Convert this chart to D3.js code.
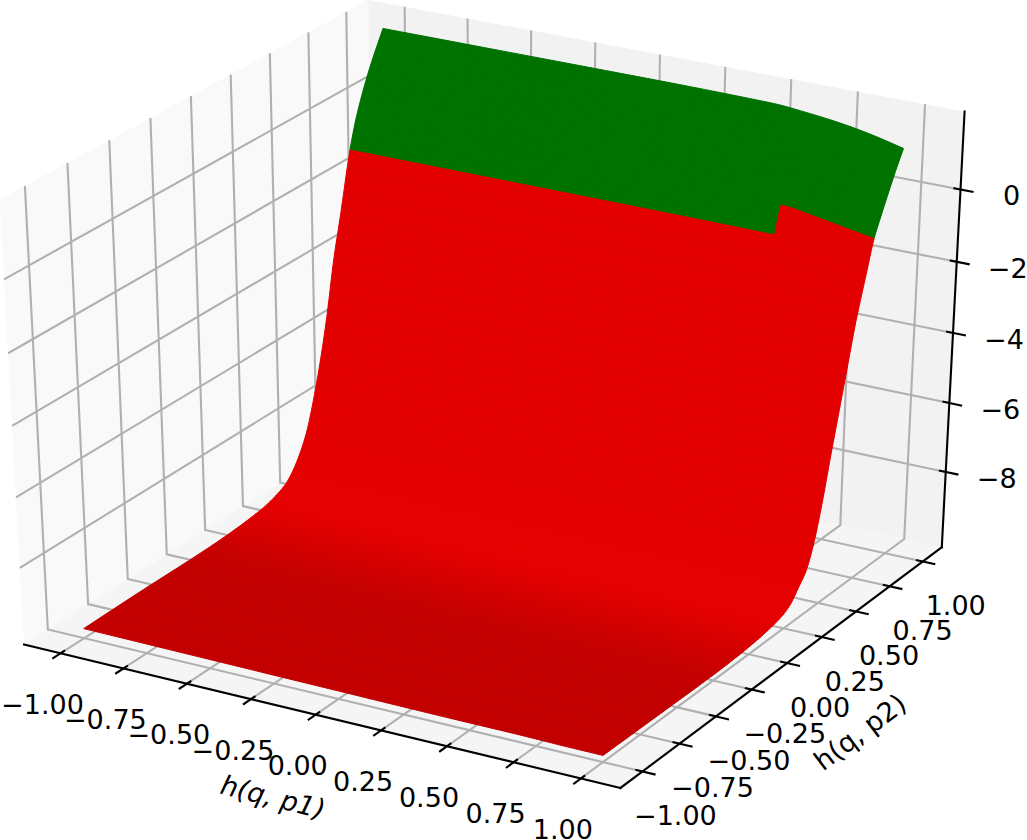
<!DOCTYPE html>
<html>
<head>
<meta charset="utf-8">
<script src="https://cdn.jsdelivr.net/npm/d3@7"></script>
<style>
  body { margin: 0; background: #fff; }
  text { font-family: "DejaVu Sans", sans-serif; fill: #000; }
</style>
</head>
<body>
<div id="chart"></div>
<script>
// axis ticks
var xTicks = [-1, -0.75, -0.5, -0.25, 0, 0.25, 0.5, 0.75, 1];
var yTicks = [-1, -0.75, -0.5, -0.25, 0, 0.25, 0.5, 0.75, 1];
var zTicks = [-8, -6, -4, -2, 0];
var xLimits = [-1.146, 1.146];
var yLimits = [-1.146, 1.146];
var zLimits = [-10.22, 2.12];

// surface
var gridX = [-1, 0, 0.5, 0.65, 0.78, 0.89, 1];
var gridY = [-1, -0.6, -0.35, -0.25, -0.2, -0.15, -0.1, -0.05, 0, 0.05, 0.1, 0.15, 0.2, 0.25, 0.3,
             0.35, 0.4, 0.45, 0.5, 0.55, 0.6, 0.65, 0.7, 0.77, 0.81, 0.85, 0.9, 0.95, 1];
var gridZ = [
  [-9.94, -9.99, -10.01, -10.01, -10.02, -10.03, -10.03],
  [-9.91, -9.98, -10.02, -10.03, -10.03, -10.04, -10.05],
  [-9.91, -9.985, -10.02, -10.03, -10.04, -10.05, -10.06],
  [-9.905, -9.98, -10.02, -10.03, -10.04, -10.05, -10.06],
  [-9.90, -9.98, -10.02, -10.03, -10.04, -10.05, -10.055],
  [-9.89, -9.97, -10.01, -10.02, -10.03, -10.04, -10.05],
  [-9.88, -9.96, -10.00, -10.01, -10.02, -10.03, -10.04],
  [-9.865, -9.95, -9.99, -10.00, -10.01, -10.02, -10.03],
  [-9.845, -9.93, -9.97, -9.98, -9.99, -10.00, -10.01],
  [-9.82, -9.905, -9.95, -9.96, -9.97, -9.98, -9.99],
  [-9.79, -9.875, -9.92, -9.93, -9.94, -9.95, -9.96],
  [-9.755, -9.84, -9.88, -9.89, -9.90, -9.91, -9.92],
  [-9.69, -9.78, -9.825, -9.84, -9.85, -9.86, -9.87],
  [-9.60, -9.695, -9.74, -9.76, -9.77, -9.78, -9.79],
  [-9.48, -9.555, -9.59, -9.605, -9.61, -9.62, -9.63],
  [-9.23, -9.28, -9.305, -9.31, -9.32, -9.325, -9.33],
  [-8.85, -8.94, -8.98, -8.99, -9.00, -9.01, -9.02],
  [-8.32, -8.35, -8.365, -8.37, -8.37, -8.38, -8.38],
  [-7.50, -7.45, -7.425, -7.42, -7.41, -7.405, -7.40],
  [-6.50, -6.35, -6.28, -6.25, -6.23, -6.21, -6.20],
  [-5.30, -5.18, -5.11, -5.09, -5.08, -5.06, -5.05],
  [-3.85, -3.87, -3.88, -3.89, -3.89, -3.90, -3.90],
  [-2.70, -2.72, -2.73, -2.73, -2.74, -2.75, -2.75],
  [-1.01, -1.01, -1.02, -1.03, -1.19, -1.31, -1.45],
  [-0.28, -0.28, -0.29, -0.30, -0.44, -0.58, -0.72],
  [0.28, 0.28, 0.25, 0.15, 0.05, -0.10, -0.26],
  [0.87, 0.87, 0.84, 0.74, 0.62, 0.47, 0.28],
  [1.38, 1.38, 1.35, 1.26, 1.14, 0.99, 0.80],
  [1.85, 1.85, 1.82, 1.73, 1.61, 1.46, 1.27]
];
// y where green starts, one per grid column gap
var greenFrom = [0.77, 0.77, 0.77, 0.81, 0.81, 0.81];

var width = 1027, height = 840;
var elev = 30 * Math.PI / 180, azim = -60 * Math.PI / 180, dist = 10;

// screen fit of the projected unit box
var xPix = d3.scaleLinear().domain([0, 1]).range([490, 490 + 6885]);
var yPix = d3.scaleLinear().domain([0, 1]).range([380.5, 380.5 - 5081]);

var xUnit = d3.scaleLinear().domain(xLimits).range([-0.5, 0.5]);
var yUnit = d3.scaleLinear().domain(yLimits).range([-0.5, 0.5]);
var zUnit = d3.scaleLinear().domain(zLimits).range([-0.5, 0.5]);

// camera basis, same as mplot3d
var n = [Math.cos(elev) * Math.cos(azim), Math.cos(elev) * Math.sin(azim), Math.sin(elev)];
var u = [-Math.sin(azim), Math.cos(azim), 0];
var v = [n[1] * u[2] - n[2] * u[1], n[2] * u[0] - n[0] * u[2], n[0] * u[1] - n[1] * u[0]];

function dot(a, b) { return a[0] * b[0] + a[1] * b[1] + a[2] * b[2]; }
function unit(p) { return [xUnit(p[0]), yUnit(p[1]), zUnit(p[2])]; }
function depth(p) { return dist - dot(n, unit(p)); }
function project(p) {
  var q = unit(p), d = dist - dot(n, q);
  return [xPix(dot(u, q) / d), yPix(dot(v, q) / d)];
}

// monotone cubic through the read values, only to draw a smooth sheet
function monotone(xs, ys) {
  var h = d3.pairs(xs, function(a, b) { return b - a; });
  var s = d3.range(h.length).map(function(i) { return (ys[i + 1] - ys[i]) / h[i]; });
  var m = xs.map(function(d, i) {
    if (i === 0) return s[0];
    if (i === xs.length - 1) return s[s.length - 1];
    if (s[i - 1] * s[i] <= 0) return 0;
    var w1 = 2 * h[i] + h[i - 1], w2 = h[i] + 2 * h[i - 1];
    return (w1 + w2) / (w1 / s[i - 1] + w2 / s[i]);
  });
  return function(x) {
    var i = Math.min(d3.bisectRight(xs, x) - 1, h.length - 1);
    var t = (x - xs[i]) / h[i], t2 = t * t, t3 = t2 * t;
    return (2 * t3 - 3 * t2 + 1) * ys[i] + (t3 - 2 * t2 + t) * h[i] * m[i] +
      (-2 * t3 + 3 * t2) * ys[i + 1] + (t3 - t2) * h[i] * m[i + 1];
  };
}
function split(knots, parts) {
  var out = [knots[0]];
  d3.pairs(knots).forEach(function(k) {
    d3.range(1, parts + 1).forEach(function(i) { out.push(k[0] + (k[1] - k[0]) * i / parts); });
  });
  return out;
}

var svg = d3.select('#chart').append('svg')
  .attr('width', width)
  .attr('height', height)
  .style('display', 'block');

var line = d3.line();
function path3d(points, closed) {
  return line(points.map(project)) + (closed ? 'Z' : '');
}

var x0 = xLimits[0], x1 = xLimits[1], y0 = yLimits[0], y1 = yLimits[1], z0 = zLimits[0], z1 = zLimits[1];

// panes
var panes = [
  {fill: '#f9f9f9', pts: [[x0, y0, z0], [x0, y0, z1], [x0, y1, z1], [x0, y1, z0]]},
  {fill: '#f2f2f2', pts: [[x0, y1, z0], [x0, y1, z1], [x1, y1, z1], [x1, y1, z0]]},
  {fill: '#f5f5f5', pts: [[x0, y0, z0], [x1, y0, z0], [x1, y1, z0], [x0, y1, z0]]}
];
svg.append('g').selectAll('path').data(panes).enter().append('path')
  .attr('d', function(d) { return path3d(d.pts, true); })
  .attr('fill', function(d) { return d.fill; });

// grid lines
var gridLines = [];
xTicks.forEach(function(t) { gridLines.push([[t, y0, z0], [t, y1, z0], [t, y1, z1]]); });
yTicks.forEach(function(t) { gridLines.push([[x1, t, z0], [x0, t, z0], [x0, t, z1]]); });
zTicks.forEach(function(t) { gridLines.push([[x0, y0, t], [x0, y1, t], [x1, y1, t]]); });
svg.append('g').selectAll('path').data(gridLines).enter().append('path')
  .attr('d', function(d) { return path3d(d, false); })
  .attr('fill', 'none')
  .attr('stroke', '#b0b0b0')
  .attr('stroke-width', 2.1);

// axis lines and tick marks
var axisLines = [
  [[x0, y0, z0], [x1, y0, z0]],
  [[x1, y0, z0], [x1, y1, z0]],
  [[x1, y1, z0], [x1, y1, z1]]
];
var tickLong = 0.0195 * (x1 - x0), tickShort = 0.0097 * (x1 - x0);
xTicks.forEach(function(t) { axisLines.push([[t, y0 - tickLong, z0], [t, y0 + tickShort, z0]]); });
yTicks.forEach(function(t) { axisLines.push([[x1 - tickShort, t, z0], [x1 + tickLong, t, z0]]); });
zTicks.forEach(function(t) { axisLines.push([[x1 - tickShort, y1, t], [x1 + tickLong, y1, t]]); });
svg.append('g').selectAll('path').data(axisLines).enter().append('path')
  .attr('d', function(d) { return path3d(d, false); })
  .attr('fill', 'none')
  .attr('stroke', '#000')
  .attr('stroke-width', 2.1)
  .attr('stroke-linecap', 'square');

// surface: smooth table from the read grid, one strip per row and colour
var columnCurves = gridX.map(function(x, j) {
  return monotone(gridY, gridZ.map(function(row) { return row[j]; }));
});
var xParts = 4;
var fineY = split(gridY, 3), fineX = split(gridX, xParts);
var fineZ = fineY.map(function(y) {
  var curve = monotone(gridX, columnCurves.map(function(c) { return c(y); }));
  return fineX.map(curve);
});

function strip(i, from, to) {
  var low = d3.range(from, to + 1).map(function(j) { return [fineX[j], fineY[i], fineZ[i][j]]; });
  var top = d3.range(to, from - 1, -1).map(function(j) { return [fineX[j], fineY[i + 1], fineZ[i + 1][j]]; });
  return low.concat(top);
}

// light from azimuth 225, altitude 19.47
var rowShade = d3.pairs(fineY).map(function(ys) {
  var meanSlope = d3.mean(gridX, function(x, j) {
    return (columnCurves[j](ys[1]) - columnCurves[j](ys[0])) / (ys[1] - ys[0]);
  });
  var shade = (0.667 * meanSlope + 0.333) / Math.sqrt(meanSlope * meanSlope + 1);
  return 0.3 + 0.35 * (shade + 1);
});

var strips = [];
d3.pairs(fineY).forEach(function(ys, i) {
  // soften the steps between neighbouring rows
  var k = d3.mean(rowShade.slice(Math.max(0, i - 4), i + 5));
  var red = d3.rgb(255 * k, 0, 0).formatHex(), green = d3.rgb(0, 128 * k, 0).formatHex();
  // gaps with the same colour go into one strip
  var gaps = greenFrom.map(function(y) { return ys[0] >= y - 1e-9; });
  var start = 0;
  gaps.forEach(function(isGreen, g) {
    if (g === gaps.length - 1 || gaps[g + 1] !== isGreen) {
      var pts = strip(i, start * xParts, (g + 1) * xParts);
      strips.push({pts: pts, color: isGreen ? green : red, depth: d3.mean(pts, depth)});
      start = g + 1;
    }
  });
});
// far ones first
strips.sort(function(p, q) { return d3.descending(p.depth, q.depth); });
svg.append('g').selectAll('path').data(strips).enter().append('path')
  .attr('d', function(d) { return path3d(d.pts, true); })
  .attr('fill', function(d) { return d.color; })
  .attr('stroke', function(d) { return d.color; })
  .attr('stroke-width', 1)
  .attr('stroke-linejoin', 'round');

// tick labels
var fmt2 = function(t) { return d3.format('.2f')(t); };
function tickLabels(ticks, anchor, dx, dy, label) {
  svg.append('g').selectAll('text').data(ticks).enter().append('text')
    .attr('x', function(t) { return project(anchor(t))[0] + dx; })
    .attr('y', function(t) { return project(anchor(t))[1] + dy; })
    .attr('text-anchor', 'middle')
    .attr('dominant-baseline', 'central')
    .attr('font-size', 27)
    .text(label);
}
tickLabels(xTicks, function(t) { return [t, y0, z0]; }, -18, 51, fmt2);
tickLabels(yTicks, function(t) { return [x1, t, z0]; }, 33, 44, fmt2);
tickLabels(zTicks, function(t) { return [x1, y1, t]; }, 51, 6.5, function(t) { return d3.format('d')(t); });

// axis titles
svg.append('text')
  .attr('transform', 'translate(273,797) rotate(14)')
  .attr('text-anchor', 'middle')
  .attr('dominant-baseline', 'central')
  .attr('font-size', 27)
  .attr('font-style', 'italic')
  .text('h(q, p1)');
svg.append('text')
  .attr('transform', 'translate(860,732) rotate(-37)')
  .attr('text-anchor', 'middle')
  .attr('dominant-baseline', 'central')
  .attr('font-size', 27)
  .text('h(q, p2)');
</script>
</body>
</html>
